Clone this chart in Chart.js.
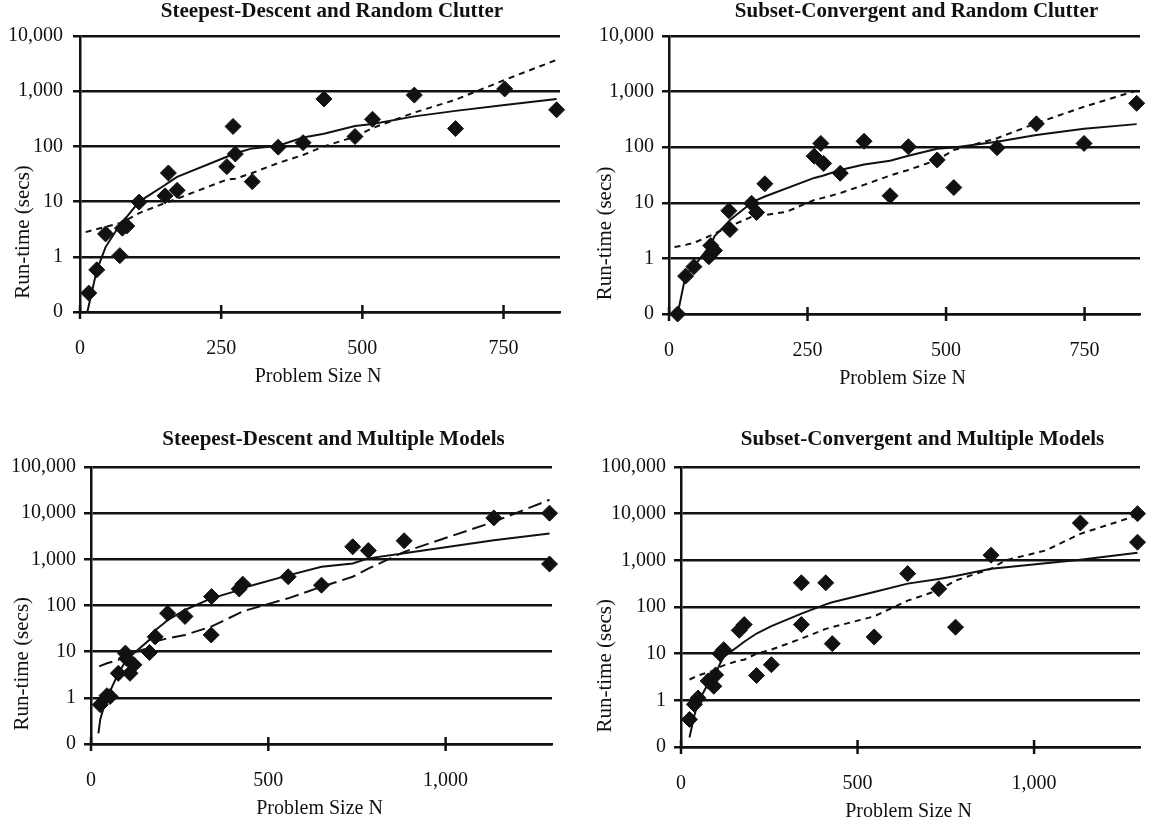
<!DOCTYPE html>
<html>
<head>
<meta charset="utf-8">
<script src="https://cdn.jsdelivr.net/npm/chart.js@4.4.1/dist/chart.umd.min.js"></script>
<style>
  html, body { margin: 0; padding: 0; background: #fff; }
  body { width: 1149px; height: 827px; position: relative; overflow: hidden; }
  canvas { position: absolute; }
</style>
</head>
<body>
<canvas id="c1" width="575" height="400" style="left:0;top:0"></canvas>
<canvas id="c2" width="574" height="400" style="left:575px;top:0"></canvas>
<canvas id="c3" width="575" height="427" style="left:0;top:400px"></canvas>
<canvas id="c4" width="574" height="427" style="left:575px;top:400px"></canvas>
<script>
// axis ticks
const TOP_Y_TICKS  = [0.1, 1, 10, 100, 1000, 10000]
const TOP_Y_LABELS = ['0', '1', '10', '100', '1,000', '10,000']
const BOT_Y_TICKS  = [0.1, 1, 10, 100, 1000, 10000, 100000]
const BOT_Y_LABELS = ['0', '1', '10', '100', '1,000', '10,000', '100,000']
const TOP_X_TICKS  = [0, 250, 500, 750]
const BOT_X_TICKS  = [0, 500, 1000]

// Steepest-Descent and Random Clutter
const sdRcN    = [15.5, 29.7, 45.3, 70.5, 75, 82.8, 104.7, 150.6, 156.5, 172, 260, 271, 275, 305, 351, 395, 432, 487, 518, 592, 665, 752, 844]
const sdRcTime = [0.22, 0.58, 2.6, 1.05, 3.3, 3.6, 9.8, 12.7, 33, 16, 43, 230, 73, 23, 97, 117, 725, 151, 310, 850, 210, 1100, 460]
const sdRcSolidN = [13, 29.7, 45.3, 70.5, 75, 82.8, 104.7, 150.6, 156.5, 172, 260, 275, 305, 351, 395, 432, 487, 518, 592, 665, 752, 844]
const sdRcSolid  = [0.1, 0.57, 1.5, 3.8, 4.4, 5.3, 10, 20, 22, 28, 65, 75, 92, 103, 145, 170, 235, 255, 350, 440, 560, 725]
const sdRcDashN = [10, 75, 104.7, 150.6, 172, 260, 275, 305, 351, 395, 432, 487, 518, 592, 665, 752, 844]
const sdRcDash  = [2.8, 4.2, 6.2, 9.4, 11.3, 25, 26, 33, 50, 70, 100, 150, 215, 410, 700, 1600, 3700]

// Subset-Convergent and Random Clutter
const scRcN    = [15.6, 30, 45, 72, 75.5, 82, 108, 110, 149, 158, 173, 262, 274, 279, 309, 352, 399, 432, 484, 514, 592, 663, 749, 844]
const scRcTime = [0.1, 0.48, 0.71, 1.07, 1.7, 1.38, 7.2, 3.3, 9.8, 6.7, 22, 69, 117, 51, 34, 128, 13.4, 102, 59, 18.8, 98, 263, 117, 616]
const scRcSolidN = [15.6, 30, 45, 72, 75.5, 82, 108, 110, 149, 158, 173, 262, 274, 279, 309, 352, 399, 432, 484, 514, 592, 663, 749, 844]
const scRcSolid  = [0.1, 0.5, 0.72, 1.6, 1.75, 2.5, 4.6, 4.9, 10, 11.2, 13, 28, 30, 31, 39, 49, 57, 70, 94, 99, 125, 165, 215, 260]
const scRcDashN = [10, 30, 45, 72, 82, 108, 149, 158, 173, 212, 262, 274, 309, 352, 399, 432, 484, 514, 592, 663, 749, 844]
const scRcDash  = [1.6, 1.75, 1.9, 2.5, 2.8, 3.7, 5.6, 6, 6, 6.9, 11.2, 12, 14.9, 21, 31, 39, 59, 89, 145, 270, 535, 1040]

// Steepest-Descent and Multiple Models
const sdMmN    = [26, 45, 54, 77, 97, 100, 110, 121, 165, 181, 216, 265, 339, 340, 418, 428, 556, 650, 738, 782, 883, 1136, 1293, 1293]
const sdMmTime = [0.71, 1.11, 1.07, 3.4, 9.3, 7.2, 3.4, 5.2, 9.6, 21, 68, 58, 23, 156, 228, 290, 420, 276, 1870, 1550, 2530, 7900, 10000, 790]
const sdMmSolidN = [21, 26, 45, 54, 77, 97, 110, 121, 165, 181, 216, 265, 339, 418, 428, 556, 650, 738, 782, 883, 1136, 1293]
const sdMmSolid  = [0.17, 0.34, 1.07, 1.4, 3.4, 6.1, 7.8, 9.2, 18, 29, 48, 80, 143, 215, 240, 450, 690, 810, 1050, 1350, 2600, 3640]
const sdMmDashN = [23, 45, 77, 97, 110, 121, 165, 181, 216, 265, 339, 418, 428, 556, 650, 738, 782, 883, 1136, 1293]
const sdMmDash  = [4.8, 5.6, 6.6, 8.5, 9.3, 9.8, 12, 16.5, 19.5, 23, 35, 68, 75, 143, 255, 420, 630, 1450, 6500, 19500]

// Subset-Convergent and Multiple Models
const scMmN    = [24, 38, 48.5, 77, 93, 98, 110.5, 121, 165, 179, 214, 256, 341, 341, 410, 428.5, 547, 642, 730, 777.5, 878, 1131, 1293, 1293]
const scMmTime = [0.39, 0.82, 1.12, 2.6, 2.0, 3.5, 10, 12.2, 31.6, 42, 3.4, 5.8, 330, 42, 330, 16.4, 22.8, 520, 245, 37, 1290, 6300, 10000, 2450]
const scMmSolidN = [24, 38, 48.5, 77, 93, 98, 110.5, 121, 165, 179, 214, 256, 341, 410, 428.5, 547, 642, 730, 777.5, 878, 1131, 1293]
const scMmSolid  = [0.16, 0.48, 0.92, 2.3, 3.1, 3.7, 6.1, 8.5, 15, 18, 27, 39, 72, 114, 126, 210, 317, 400, 460, 660, 1030, 1450]
const scMmDashN = [24, 48.5, 77, 98, 110.5, 121, 165, 179, 214, 256, 341, 410, 428.5, 547, 642, 730, 777.5, 878, 919, 1033, 1131, 1293]
const scMmDash  = [2.8, 3.4, 4.0, 4.4, 5.2, 5.6, 7.2, 7.4, 10, 12.2, 21, 34, 37, 63, 137, 230, 370, 660, 1000, 1630, 3700, 9200]

const INK  = '#111'
const FONT = 'Liberation Serif, Times New Roman, serif'

function pts(xs, ys) {
  return xs.map((x, i) => ({ x, y: ys[i] }))
}

// titles drawn at the spots the original puts them (it sits them off-centre)
const titles = {
  id: 'titles',
  afterDraw(chart, args, o) {
    const { ctx, chartArea: a } = chart
    const cx = (a.left + a.right) / 2
    ctx.save()
    ctx.fillStyle = INK
    ctx.textAlign = 'center'
    ctx.textBaseline = 'middle'

    ctx.font = `bold 21px ${FONT}`
    ctx.fillText(o.title, cx + o.titleDx, o.titleY)

    ctx.font = `20px ${FONT}`
    ctx.fillText('Problem Size N', cx - 2, a.bottom + 65)

    ctx.translate(o.yTitleX, a.top + 0.71 * (a.bottom - a.top))
    ctx.rotate(-Math.PI / 2)
    ctx.font = `21px ${FONT}`
    ctx.fillText('Run-time (secs)', 0, 0)
    ctx.restore()
  }
}

// x tick marks that cross the axis line
const crossTicks = {
  id: 'crossTicks',
  afterDatasetsDraw(chart) {
    const { ctx, chartArea } = chart
    const xs = chart.scales.x
    ctx.save()
    ctx.strokeStyle = INK
    ctx.lineWidth = 2.5
    xs.ticks.forEach(t => {
      const px = xs.getPixelForValue(t.value)
      ctx.beginPath()
      ctx.moveTo(px, chartArea.bottom - 7)
      ctx.lineTo(px, chartArea.bottom + 7)
      ctx.stroke()
    })
    ctx.restore()
  }
}

function makeChart(id, c) {
  const canvas = document.getElementById(id)
  const H = canvas.height, W = canvas.width
  return new Chart(canvas, {
    type: 'scatter',
    data: {
      datasets: [
        { type: 'line', data: pts(c.solidX, c.solidY), borderColor: INK, borderWidth: 2,
          pointRadius: 0, tension: 0, fill: false },
        { type: 'line', data: pts(c.dashX, c.dashY), borderColor: INK, borderWidth: 2,
          borderDash: c.dash, pointRadius: 0, tension: 0, fill: false },
        { data: pts(c.x, c.y), pointStyle: 'rectRot', pointRadius: 8,
          backgroundColor: INK, borderColor: INK, borderWidth: 1, clip: false }
      ]
    },
    options: {
      responsive: false,
      animation: false,
      layout: { padding: { left: 0, right: W - c.area.right, top: c.area.top, bottom: 0 } },
      plugins: {
        legend: { display: false },
        tooltip: { enabled: false },
        title: { display: false },
        titles: { title: c.title, titleDx: 12, titleY: c.titleY, yTitleX: c.yTitleX }
      },
      scales: {
        x: {
          type: 'linear', min: 0, max: c.xMax,
          afterBuildTicks: s => { s.ticks = c.xTicks.map(v => ({ value: v })) },
          afterFit: s => { s.height = H - c.area.bottom },
          grid: { display: false, drawTicks: false },
          border: { display: true, color: INK, width: 2.5 },
          ticks: { color: INK, font: { family: FONT, size: 20 }, padding: 25,
                   callback: v => v.toLocaleString('en-US') }
        },
        y: {
          type: 'logarithmic', min: c.yTicks[0], max: c.yTicks[c.yTicks.length - 1],
          afterBuildTicks: s => { s.ticks = c.yTicks.map(v => ({ value: v })) },
          afterFit: s => { s.width = c.area.left },
          grid: { color: INK, lineWidth: 2.5, drawTicks: true, tickLength: 7 },
          border: { display: true, color: INK, width: 2.5 },
          ticks: { color: INK, font: { family: FONT, size: 20 }, padding: c.yPad, autoSkip: false,
                   callback: (v, i) => c.yLabels[i] }
        }
      }
    },
    plugins: [titles, crossTicks]
  })
}

makeChart('c1', {
  title: 'Steepest-Descent and Random Clutter', titleY: 12, yTitleX: 23, yPad: 10,
  area: { left: 80, right: 560, top: 36, bottom: 312 },
  xMax: 850, xTicks: TOP_X_TICKS, yTicks: TOP_Y_TICKS, yLabels: TOP_Y_LABELS,
  x: sdRcN, y: sdRcTime, solidX: sdRcSolidN, solidY: sdRcSolid,
  dashX: sdRcDashN, dashY: sdRcDash, dash: [6, 5]
})

makeChart('c2', {
  title: 'Subset-Convergent and Random Clutter', titleY: 12, yTitleX: 30, yPad: 8,
  area: { left: 94, right: 571, top: 36, bottom: 314 },
  xMax: 850, xTicks: TOP_X_TICKS, yTicks: TOP_Y_TICKS, yLabels: TOP_Y_LABELS,
  x: scRcN, y: scRcTime, solidX: scRcSolidN, solidY: scRcSolid,
  dashX: scRcDashN, dashY: scRcDash, dash: [6, 5]
})

makeChart('c3', {
  title: 'Steepest-Descent and Multiple Models', titleY: 40, yTitleX: 22, yPad: 8,
  area: { left: 91, right: 552, top: 67, bottom: 344 },
  xMax: 1300, xTicks: BOT_X_TICKS, yTicks: BOT_Y_TICKS, yLabels: BOT_Y_LABELS,
  x: sdMmN, y: sdMmTime, solidX: sdMmSolidN, solidY: sdMmSolid,
  dashX: sdMmDashN, dashY: sdMmDash, dash: [14, 6]
})

makeChart('c4', {
  title: 'Subset-Convergent and Multiple Models', titleY: 40, yTitleX: 30, yPad: 8,
  area: { left: 106, right: 566, top: 67, bottom: 347 },
  xMax: 1300, xTicks: BOT_X_TICKS, yTicks: BOT_Y_TICKS, yLabels: BOT_Y_LABELS,
  x: scMmN, y: scMmTime, solidX: scMmSolidN, solidY: scMmSolid,
  dashX: scMmDashN, dashY: scMmDash, dash: [6, 5]
})
</script>
</body>
</html>
